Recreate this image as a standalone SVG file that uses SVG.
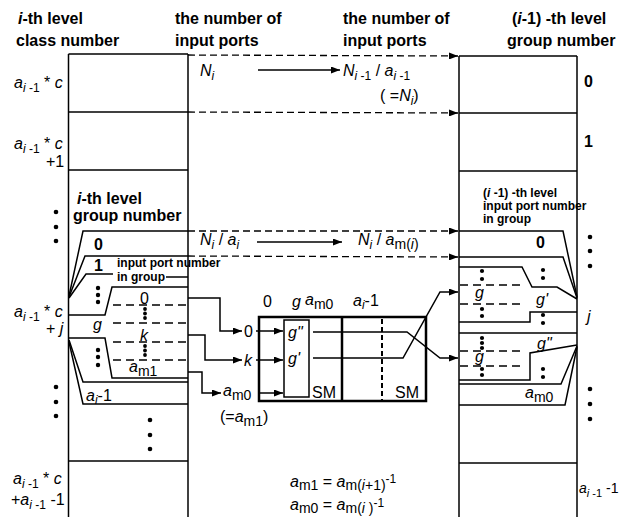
<svg xmlns="http://www.w3.org/2000/svg" width="621" height="517" viewBox="0 0 621 517">
<defs>
<marker id="ah" markerUnits="userSpaceOnUse" markerWidth="9" markerHeight="7" refX="9" refY="3.5" orient="auto">
<path d="M0,0 L9,3.5 L0,7 z" fill="#000"/>
</marker>
<style>
.ln{stroke:#000;stroke-width:1.5;fill:none}
.thk{stroke:#000;stroke-width:2.5;fill:none}
.ds{stroke:#000;stroke-width:1.3;fill:none;stroke-dasharray:7 4}
.dd{stroke:#000;stroke-width:1.3;fill:none;stroke-dasharray:8 5}
.ar{marker-end:url(#ah)}
text{font-family:"Liberation Sans",Arial,Helvetica,sans-serif;fill:#000}
.hd{font-weight:bold;font-size:16px}
.sb{font-weight:bold;font-size:12px}
.m{font-size:16px}
.i{font-style:italic}
.s{font-size:12px}
.dot{fill:#000}
</style>
</defs>

<g id="headers">
<text class="hd" x="18" y="24"><tspan class="i">i</tspan>-th level</text>
<text class="hd" x="16" y="46">class number</text>
<text class="hd" x="175" y="24">the number of</text>
<text class="hd" x="175" y="46">input ports</text>
<text class="hd" x="343" y="24">the number of</text>
<text class="hd" x="343" y="46">input ports</text>
<text class="hd" x="512" y="24">(<tspan class="i">i</tspan>-1) -th level</text>
<text class="hd" x="507" y="46">group number</text>
</g>

<g id="left-column">
<line class="ln" x1="68.5" y1="54" x2="68.5" y2="517"/>
<line class="ln" x1="188" y1="54" x2="188" y2="517"/>
<line class="ln" x1="68.5" y1="54" x2="188" y2="54"/>
<line class="ln" x1="68.5" y1="112" x2="188" y2="112"/>
<line class="ln" x1="68.5" y1="170" x2="188" y2="170"/>
<line class="ln" x1="68.5" y1="461" x2="188" y2="461"/>
<text class="m" x="14" y="88"><tspan class="i">a</tspan><tspan dy="4" class="s"><tspan class="i">i</tspan> -1</tspan><tspan dy="-4"> * </tspan><tspan class="i">c</tspan></text>
<text class="m" x="14" y="149"><tspan class="i">a</tspan><tspan dy="4" class="s"><tspan class="i">i</tspan> -1</tspan><tspan dy="-4"> * </tspan><tspan class="i">c</tspan></text>
<text class="m" x="46" y="167">+1</text>
<text class="m" x="14" y="317"><tspan class="i">a</tspan><tspan dy="4" class="s"><tspan class="i">i</tspan> -1</tspan><tspan dy="-4"> * </tspan><tspan class="i">c</tspan></text>
<text class="m" x="46" y="334">+ <tspan class="i">j</tspan></text>
<text class="m" x="13" y="484"><tspan class="i">a</tspan><tspan dy="4" class="s"><tspan class="i">i</tspan> -1</tspan><tspan dy="-4"> * </tspan><tspan class="i">c</tspan></text>
<text class="m" x="11" y="505">+<tspan class="i">a</tspan><tspan dy="4" class="s"><tspan class="i">i</tspan> -1</tspan><tspan dy="-4"> -1</tspan></text>
<circle class="dot" cx="56" cy="212" r="2.3"/><circle class="dot" cx="56" cy="227" r="2.3"/><circle class="dot" cx="56" cy="241" r="2.3"/>
<circle class="dot" cx="56" cy="387" r="2.3"/><circle class="dot" cx="56" cy="402" r="2.3"/><circle class="dot" cx="56" cy="416" r="2.3"/>
<circle class="dot" cx="150" cy="420" r="2.3"/><circle class="dot" cx="150" cy="435" r="2.3"/><circle class="dot" cx="150" cy="449" r="2.3"/>
</g>

<g id="left-groups">
<text class="hd" x="77" y="204"><tspan class="i">i</tspan>-th level</text>
<text class="hd" x="73" y="221">group number</text>
<polyline class="ln" points="188,231 83,231 69,296"/>
<polyline class="ln" points="188,256 85,256 69,297"/>
<polyline class="ln" points="113,274 86,274 69,298"/>
<line class="ln" x1="166" y1="277" x2="188" y2="277"/>
<text class="hd" x="94" y="250">0</text>
<text class="hd" x="94" y="271">1</text>
<text class="sb" x="117" y="267" font-size="11.5">input port number</text>
<text class="sb" x="117" y="281" font-size="11.5">in group</text>
<polyline class="ln" points="69,315 105,315 112,287 188,287"/>
<polyline class="ln" points="69,338 105,338 112,378 188,378"/>
<polyline class="ln" points="69,340 83,382 188,382"/>
<polyline class="ln" points="69,342 83,404 188,404"/>
<line class="dd" x1="113" y1="305" x2="187" y2="305"/>
<line class="dd" x1="113" y1="323" x2="187" y2="323"/>
<line class="dd" x1="113" y1="342" x2="187" y2="342"/>
<line class="dd" x1="113" y1="360" x2="187" y2="360"/>
<text class="m" x="140" y="304">0</text>
<text class="m i" x="140" y="341">k</text>
<text class="m" x="129" y="372"><tspan class="i">a</tspan><tspan dy="4" font-size="14">m1</tspan></text>
<text class="m i" x="93" y="330">g</text>
<text class="m" x="86" y="401"><tspan class="i">a</tspan><tspan dy="3" class="s i">i</tspan><tspan dy="-3">-1</tspan></text>
<circle class="dot" cx="98" cy="288" r="2.2"/><circle class="dot" cx="98" cy="295" r="2.2"/><circle class="dot" cx="98" cy="302" r="2.2"/>
<circle class="dot" cx="98" cy="350" r="2.2"/><circle class="dot" cx="98" cy="357" r="2.2"/><circle class="dot" cx="98" cy="365" r="2.2"/>
<circle class="dot" cx="145" cy="309" r="1.9"/><circle class="dot" cx="145" cy="313.5" r="1.9"/><circle class="dot" cx="145" cy="318" r="1.9"/>
<circle class="dot" cx="145" cy="346" r="1.9"/><circle class="dot" cx="145" cy="350.5" r="1.9"/><circle class="dot" cx="145" cy="355" r="1.9"/>
</g>

<g id="right-column">
<line class="ln" x1="459" y1="56" x2="459" y2="517"/>
<line class="ln" x1="577" y1="56" x2="577" y2="517"/>
<line class="ln" x1="459" y1="56" x2="577" y2="56"/>
<line class="ln" x1="459" y1="113" x2="577" y2="113"/>
<line class="ln" x1="459" y1="171" x2="577" y2="171"/>
<line class="ln" x1="459" y1="463" x2="577" y2="463"/>
<text class="hd" x="584" y="87" font-size="15">0</text>
<text class="hd" x="584" y="147" font-size="15">1</text>
<text class="m i" x="587" y="322">j</text>
<text x="579" y="493" font-size="14"><tspan class="i">a</tspan><tspan dy="4" font-size="11"><tspan class="i">i</tspan> -1</tspan><tspan dy="-4"> -1</tspan></text>
<circle class="dot" cx="590" cy="237" r="2.3"/><circle class="dot" cx="590" cy="251" r="2.3"/><circle class="dot" cx="590" cy="266" r="2.3"/>
<circle class="dot" cx="590" cy="389" r="2.3"/><circle class="dot" cx="590" cy="404" r="2.3"/><circle class="dot" cx="590" cy="419" r="2.3"/>
</g>

<g id="right-groups">
<text class="sb" x="483" y="197">(<tspan class="i">i</tspan> -1) -th level</text>
<text class="sb" x="483" y="210">input port number</text>
<text class="sb" x="483" y="223">in group</text>
<polyline class="ln" points="459,231 563,231 577,297"/>
<polyline class="ln" points="459,257 563,257 577,298"/>
<polyline class="ln" points="459,267 522,267 532,287 557,287 577,299"/>
<polyline class="ln" points="459,322 530,322 530,312 577,312"/>
<line class="ln" x1="459" y1="333" x2="577" y2="333"/>
<polyline class="ln" points="459,380 530,380 530,353 577,345"/>
<polyline class="ln" points="459,384 561,384 577,346"/>
<polyline class="ln" points="459,405 565,405 577,347"/>
<line class="dd" x1="460" y1="285" x2="521" y2="285"/>
<line class="dd" x1="460" y1="304" x2="521" y2="304"/>
<line class="dd" x1="460" y1="351" x2="521" y2="351"/>
<line class="dd" x1="460" y1="366" x2="521" y2="366"/>
<text class="hd" x="536" y="248" font-size="15">0</text>
<text class="m i" x="475" y="298">g</text>
<text class="m i" x="475" y="362">g</text>
<text class="m i" x="536" y="305">g'</text>
<text class="m i" x="537" y="349">g"</text>
<text class="m" x="525" y="398"><tspan class="i">a</tspan><tspan dy="4" font-size="14">m0</tspan></text>
<circle class="dot" cx="543" cy="270" r="2.1"/><circle class="dot" cx="543" cy="278" r="2.1"/>
<circle class="dot" cx="543" cy="315" r="2.1"/><circle class="dot" cx="543" cy="323" r="2.1"/>
<circle class="dot" cx="543" cy="369" r="2.1"/><circle class="dot" cx="543" cy="377" r="2.1"/>
<circle class="dot" cx="482" cy="271" r="2.1"/><circle class="dot" cx="482" cy="279" r="2.1"/>
<circle class="dot" cx="482" cy="309" r="2.1"/><circle class="dot" cx="482" cy="316" r="2.1"/>
<circle class="dot" cx="482" cy="338" r="2.1"/><circle class="dot" cx="482" cy="343" r="2.1"/><circle class="dot" cx="482" cy="348" r="2.1"/>
<circle class="dot" cx="482" cy="369" r="2.1"/><circle class="dot" cx="482" cy="375" r="2.1"/>
</g>

<g id="sm-switch">
<rect class="thk" x="259" y="317" width="167" height="84"/>
<line class="thk" x1="342" y1="317" x2="342" y2="401"/>
<line stroke="#000" stroke-width="2" stroke-dasharray="5 3" x1="382" y1="319" x2="382" y2="400"/>
<rect class="ln" x="284" y="320" width="25" height="77"/>
<text class="m" x="263" y="307">0</text>
<text class="m i" x="292" y="307">g</text>
<text class="m" x="305" y="305"><tspan class="i">a</tspan><tspan dy="4" font-size="14">m0</tspan></text>
<text class="m" x="353" y="306"><tspan class="i">a</tspan><tspan dy="3" class="s i">i</tspan><tspan dy="-3">-1</tspan></text>
<text class="m i" x="288" y="338">g"</text>
<text class="m i" x="288" y="364">g'</text>
<text class="m" x="312" y="398" font-size="15">SM</text>
<text class="m" x="395" y="398" font-size="15">SM</text>
<text class="m" x="244" y="337">0</text>
<text class="m i" x="244" y="366">k</text>
<text class="m" x="223" y="396"><tspan class="i">a</tspan><tspan dy="4" font-size="14">m0</tspan></text>
<text class="m" x="220" y="422">(=<tspan class="i">a</tspan><tspan dy="4" font-size="14">m1</tspan><tspan dy="-4">)</tspan></text>
</g>

<g id="rates">
<text class="m" x="200" y="76"><tspan class="i">N</tspan><tspan dy="4" class="s i">i</tspan></text>
<text class="m" x="343" y="76"><tspan class="i">N</tspan><tspan dy="4" class="s"><tspan class="i">i</tspan> -1</tspan><tspan dy="-4"> / </tspan><tspan class="i">a</tspan><tspan dy="4" class="s"><tspan class="i">i</tspan> -1</tspan></text>
<text class="m" x="380" y="101">( =<tspan class="i">N</tspan><tspan dy="4" class="s i">i</tspan><tspan dy="-4">)</tspan></text>
<text class="m" x="200" y="245"><tspan class="i">N</tspan><tspan dy="4" class="s i">i</tspan><tspan dy="-4"> / </tspan><tspan class="i">a</tspan><tspan dy="4" class="s i">i</tspan></text>
<text class="m" x="358" y="245"><tspan class="i">N</tspan><tspan dy="4" class="s i">i</tspan><tspan dy="-4"> / </tspan><tspan class="i">a</tspan><tspan dy="4" font-size="14">m(<tspan class="i">i</tspan>)</tspan></text>
<text class="m" x="290" y="487"><tspan class="i">a</tspan><tspan dy="3" font-size="14">m1</tspan><tspan dy="-3"> = </tspan><tspan class="i">a</tspan><tspan dy="3" font-size="14">m(<tspan class="i">i</tspan>+1)</tspan><tspan dy="-7" font-size="12">-1</tspan></text>
<text class="m" x="290" y="510"><tspan class="i">a</tspan><tspan dy="3" font-size="14">m0</tspan><tspan dy="-3"> = </tspan><tspan class="i">a</tspan><tspan dy="3" font-size="14">m(<tspan class="i">i</tspan> )</tspan><tspan dy="-6" font-size="12">-1</tspan></text>
</g>

<g id="connectors">
<line class="ds ar" x1="188" y1="55" x2="458" y2="56"/>
<line class="ds ar" x1="188" y1="112" x2="458" y2="113"/>
<line class="ds ar" x1="188" y1="231" x2="458" y2="231"/>
<line class="ds ar" x1="188" y1="256" x2="458" y2="257"/>
<line class="ln ar" stroke-width="2" x1="258" y1="70" x2="340" y2="70"/>
<line class="ln ar" stroke-width="2" x1="257" y1="242" x2="342" y2="242"/>
<polyline class="ln ar" points="188,298 220,298 220,331 242,331"/>
<polyline class="ln ar" points="188,335 205,335 205,360 242,360"/>
<polyline class="ln ar" points="188,372 202,372 202,393 221,393"/>
<line class="ln ar" x1="256" y1="331" x2="283" y2="331"/>
<line class="ln ar" x1="256" y1="360" x2="283" y2="360"/>
<line class="ln ar" x1="258" y1="393" x2="283" y2="393"/>
<polyline class="ln ar" points="313,332 407,332 440,358 458,358"/>
<polyline class="ln ar" points="313,358 403,358 440,292 458,292"/>
</g>
</svg>
